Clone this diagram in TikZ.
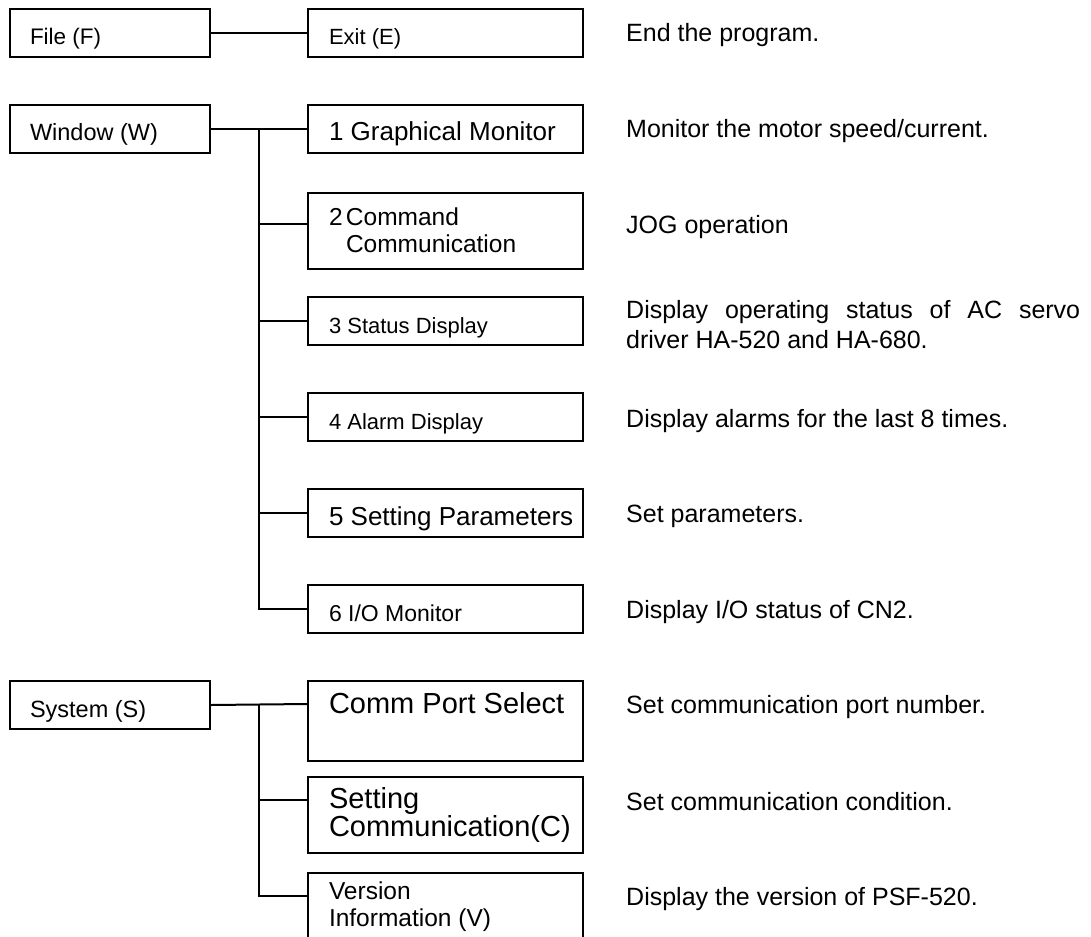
\documentclass[tikz,border=0pt]{standalone}
\usepackage{fontspec}
\setmainfont{Liberation Sans}
\usetikzlibrary{calc}
\begin{document}
\begin{tikzpicture}[x=1pt,y=-1pt,
  box/.style={draw, line width=2pt, anchor=north west, inner ysep=0pt, align=flush left,
    font=\fontsize{22}{27}\selectfont},
  lbox/.style={box, inner xsep=20pt, text width=160pt, font=\fontsize{23.5}{27}\selectfont},
  sbox/.style={box, inner xsep=21pt, text width=233pt},
  one/.style={text height=36pt, text depth=12pt},
  desc/.style={anchor=base west, inner sep=0pt, font=\fontsize{25}{30}\selectfont},
  conn/.style={line width=2pt}]
\useasboundingbox (0,0) rectangle (1091,936);
\clip (0,0) rectangle (1091,936);

% left menu boxes
\node[lbox, one, font=\fontsize{22.5}{27}\selectfont] (file) at (9,8) {File (F)};
\node[lbox, one] (win) at (9,104) {Window (W)};
\node[lbox, one] (sys) at (9,680) {System (S)};

% sub-menu boxes
\node[sbox, one, font=\fontsize{22}{26}\selectfont] (exit) at (307,8) {Exit (E)};
\node[sbox, one, font=\fontsize{26}{30}\selectfont] (gm) at (307,104) {\mbox{1 Graphical Monitor}};
\node[sbox, text height=32pt, text depth=44pt, font=\fontsize{24.5}{27}\selectfont] (cmd) at (307,192)
  {\makebox[17pt][l]{2}Command\\\hspace*{17pt}Communication};
\node[sbox, one] (st) at (307,296) {3 Status Display};
\node[sbox, one] (al) at (307,392) {4 Alarm Display};
\node[sbox, one, font=\fontsize{26}{30}\selectfont] (sp) at (307,488) {\mbox{5 Setting Parameters}};
\node[sbox, one, font=\fontsize{23}{27}\selectfont] (io) at (307,584) {6 I/O Monitor};
\node[sbox, text height=32.5pt, text depth=47.5pt, font=\fontsize{29}{30}\selectfont] (cp) at (307,680)
  {\mbox{Comm Port Select}};
\node[sbox, text height=31pt, text depth=45pt, font=\fontsize{29}{26.5}\selectfont] (sc) at (307,776)
  {\mbox{Setting}\\\mbox{Communication(C)}};
\node[sbox, text height=26pt, text depth=80pt, font=\fontsize{24.5}{27}\selectfont] (ver) at (307,872)
  {\mbox{Version}\\\mbox{Information (V)}};

% descriptions
\node[desc] (d1) at (626,42) {End the program.};
\node[desc] (d2) at (626,138) {Monitor the motor speed/current.};
\node[desc] (d3) at (626,233) {JOG operation};
\node[desc, text width=460pt, align=flush left] (d4) at (626,318)
  {\makebox[454pt][l]{Display\hfill operating\hfill status\hfill of\hfill AC\hfill servo}\\driver HA-520 and HA-680.};
\node[desc] (d5) at (626,427) {Display alarms for the last 8 times.};
\node[desc] (d6) at (626,522) {Set parameters.};
\node[desc] (d7) at (626,618) {Display I/O status of CN2.};
\node[desc] (d8) at (626,713) {Set communication port number.};
\node[desc] (d9) at (626,810) {Set communication condition.};
\node[desc] (d10) at (626,905) {Display the version of PSF-520.};

% connectors
\draw[conn] (file.east) -- (exit.west);
\draw[conn] (win.east) -- (gm.west);
\coordinate (wt) at ($(win.east)!0.5!(gm.west)$);
\coordinate (cmdin) at ([yshift=-32pt]cmd.north west);
\draw[conn] (wt) |- (io.west);
\draw[conn] (wt |- cmdin) -- (cmdin);
\draw[conn] (wt |- st.west) -- (st.west);
\draw[conn] (wt |- al.west) -- (al.west);
\draw[conn] (wt |- sp.west) -- (sp.west);

\coordinate (cpin) at ([yshift=-24pt]cp.north west);
\coordinate (scin) at ([yshift=-24pt]sc.north west);
\coordinate (vin) at ([yshift=-24pt]ver.north west);
\draw[conn] (sys.east) -- (cpin);
\coordinate (stk) at ($(sys.east)!0.5!(cpin)$);
\draw[conn] (stk) |- (vin);
\draw[conn] (stk |- scin) -- (scin);
\end{tikzpicture}
\end{document}
